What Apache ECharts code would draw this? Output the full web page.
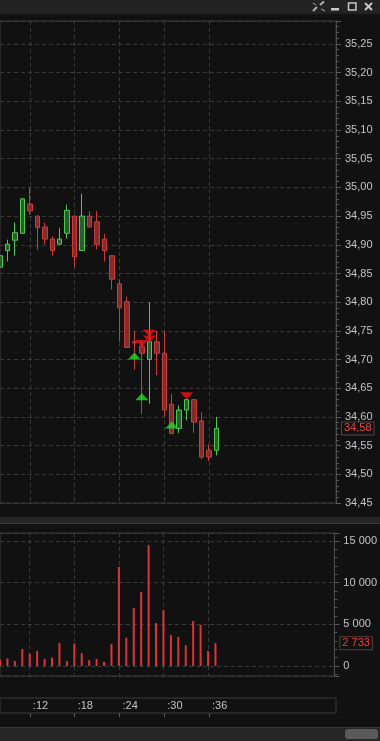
<!DOCTYPE html>
<html><head><meta charset="utf-8">
<script src="https://cdn.jsdelivr.net/npm/echarts@6/dist/echarts.min.js"></script>
<style>html,body{margin:0;padding:0;background:#111;}#c{width:380px;height:741px;}</style>
</head><body><div id="c"></div>
<script>
// ---- data ----
const times = [':08',':09',':10',':11',':12',':13',':14',':15',':16',':17',':18',':19',':20',':21',':22',':23',':24',':25',':26',':27',':28',':29',':30',':31',':32',':33',':34',':35',':36',':37'];
const open  = [34.861,34.890,34.908,34.920,34.971,34.950,34.931,34.910,34.901,34.920,34.950,34.890,34.950,34.940,34.910,34.881,34.832,34.801,34.731,34.723,34.700,34.731,34.711,34.622,34.580,34.612,34.630,34.593,34.542,34.542];
const close = [34.881,34.901,34.921,34.980,34.959,34.930,34.910,34.890,34.910,34.960,34.879,34.950,34.931,34.901,34.890,34.840,34.790,34.721,34.729,34.711,34.731,34.711,34.612,34.571,34.612,34.630,34.591,34.530,34.530,34.580];
const low   = [34.858,34.871,34.881,34.919,34.952,34.891,34.901,34.881,34.900,34.911,34.861,34.889,34.930,34.892,34.871,34.822,34.731,34.720,34.682,34.605,34.623,34.673,34.600,34.570,34.572,34.594,34.572,34.526,34.523,34.533];
const high  = [34.909,34.909,34.939,34.981,35.000,34.951,34.939,34.915,34.929,34.970,34.951,34.989,34.959,34.959,34.919,34.882,34.840,34.810,34.750,34.731,34.800,34.750,34.750,34.640,34.620,34.632,34.631,34.608,34.552,34.600];
const volume = [800,900,600,2050,1450,1800,850,1000,2750,600,2700,1550,700,850,500,2650,11900,3400,6950,8900,14500,5150,6700,3700,3500,2500,5400,4950,1800,2733];
const buyTimes = [':26',':27',':31'];
const buyPrices = [34.706,34.635,34.586];
const sellTimes = [':27',':28',':28',':33'];
const sellPrices = [34.728,34.746,34.736,34.637];
const axisFirstMinute = 8, axisLastMinute = 53, timeLabelStep = 6;
const priceMin = 34.45, priceMax = 35.29, priceStep = 0.05;
const volMin = -1200, volMax = 15960;

// ---- build ----
const cats = [];
for (let m = axisFirstMinute; m <= axisLastMinute; m++) cats.push(':' + String(m).padStart(2,'0'));
const lastMinute = parseInt(times[times.length-1].slice(1));
const showMinute = (i, v) => { const m = parseInt(String(v).slice(1)); return m % timeLabelStep === 0 && m <= lastMinute; };
const candleData = cats.map(() => '-');
const volData = cats.map(() => '-');
times.forEach((t, i) => {
  const idx = cats.indexOf(t);
  candleData[idx] = [open[i], close[i], low[i], high[i]];
  volData[idx] = volume[i];
});
const fmtPrice = v => Number(v).toFixed(2).replace('.', ',');
const fmtVol = v => String(Math.round(v)).replace(/\B(?=(\d{3})+(?!\d))/g, ' ');
const FONT = 'Liberation Sans';
const LBL = '#c4c4c4';
const GRIDC = '#3a3a3a';
const dashed = {color: GRIDC, type: [4, 3], width: 1};
const lastLabel = fmt => ({
  silent: true, symbol: ['none', 'none'], animation: false,
  lineStyle: {color: 'rgba(0,0,0,0)', width: 1, type: 'solid'},
  label: {show: true, position: 'end', distance: 6, formatter: p => fmt(p.value), color: '#e8403c', fontSize: 11, fontFamily: FONT,
          borderColor: '#5a4040', borderWidth: 1, padding: [1, 2, 0, 2], backgroundColor: '#111111'}
});

const chart = echarts.init(document.getElementById('c'), null, {renderer: 'canvas'});
const mlPrice = lastLabel(fmtPrice); mlPrice.data = [{yAxis: close[close.length-1]}];
const mlVol = lastLabel(fmtVol); mlVol.data = [{yAxis: volume[volume.length-1]}];
chart.setOption({
  backgroundColor: '#111111',
  animation: false,
  grid: [
    {left: 0, right: 44, top: 21, height: 482, show: true, borderColor: '#3c3c3c', borderWidth: 1, backgroundColor: 'transparent'},
    {left: 0, right: 44, top: 533, height: 143, show: true, borderColor: '#3c3c3c', borderWidth: 1, backgroundColor: 'transparent'},
    {left: 0, right: 44, top: 698, height: 15, show: true, borderColor: '#3c3c3c', borderWidth: 1, backgroundColor: 'transparent'}
  ],
  xAxis: [
    {gridIndex: 0, type: 'category', data: cats, boundaryGap: false,
     axisLine: {show: false}, axisTick: {show: false}, axisLabel: {show: false},
     splitLine: {show: true, interval: showMinute, lineStyle: dashed}},
    {gridIndex: 1, type: 'category', data: cats, boundaryGap: false,
     axisLine: {show: false}, axisTick: {show: false}, axisLabel: {show: false},
     splitLine: {show: true, interval: showMinute, lineStyle: dashed}},
    {gridIndex: 2, type: 'category', data: cats, boundaryGap: false, position: 'top',
     axisLine: {show: false},
     axisTick: {show: true, inside: true, length: 4, interval: showMinute, lineStyle: {color: '#5a5a5a'}},
     axisLabel: {show: true, inside: true, interval: showMinute, margin: 8, align: 'left', verticalAlign: 'middle',
                 padding: [0, 0, 0, 3], color: LBL, fontSize: 11, fontFamily: FONT},
     splitLine: {show: false}}
  ],
  yAxis: [
    {gridIndex: 0, type: 'value', position: 'right', min: priceMin, max: priceMax, interval: priceStep,
     axisLine: {show: true, lineStyle: {color: '#4a4a4a'}},
     axisTick: {show: true, length: 5, lineStyle: {color: '#5a5a5a'}},
     minorTick: {show: true, splitNumber: 5, length: 3, lineStyle: {color: '#5a5a5a'}},
     axisLabel: {color: LBL, fontSize: 11, fontFamily: FONT, margin: 9, showMaxLabel: false, formatter: fmtPrice},
     splitLine: {show: true, lineStyle: dashed}},
    {gridIndex: 1, type: 'value', position: 'right', min: volMin, max: volMax, splitNumber: 3,
     axisLine: {show: true, lineStyle: {color: '#4a4a4a'}},
     axisTick: {show: true, length: 5, lineStyle: {color: '#5a5a5a'}},
     minorTick: {show: true, splitNumber: 5, length: 3, lineStyle: {color: '#5a5a5a'}},
     axisLabel: {color: LBL, fontSize: 11, fontFamily: FONT, margin: 9, showMinLabel: false, showMaxLabel: false, formatter: fmtVol},
     splitLine: {show: true, lineStyle: dashed}},
    {gridIndex: 2, type: 'value', min: 0, max: 1, show: false}
  ],
  series: [
    {type: 'candlestick', xAxisIndex: 0, yAxisIndex: 0, data: candleData, barWidth: 5,
     itemStyle: {color: '#2a5c2c', borderColor: '#4fc94f', color0: '#822c2c', borderColor0: '#cc3b3b', borderWidth: 1},
     markLine: mlPrice},
    {type: 'scatter', xAxisIndex: 0, yAxisIndex: 0, z: 5, symbol: 'triangle', symbolSize: [13, 7],
     itemStyle: {color: '#1ee01e'}, data: buyTimes.map((t, i) => [t, buyPrices[i]])},
    {type: 'scatter', xAxisIndex: 0, yAxisIndex: 0, z: 5, symbol: 'triangle', symbolRotate: 180, symbolSize: [13, 7],
     itemStyle: {color: '#f01414'}, data: sellTimes.map((t, i) => [t, sellPrices[i]])},
    {type: 'bar', xAxisIndex: 1, yAxisIndex: 1, data: volData, barWidth: 2, itemStyle: {color: '#dc343c'},
     markLine: mlVol}
  ],
  graphic: [
    {type: 'rect', shape: {x: 0, y: 0, width: 380, height: 14}, style: {fill: '#232323'}, silent: true},
    {type: 'line', shape: {x1: 0, y1: 14, x2: 380, y2: 14}, style: {stroke: '#1a1a1a', lineWidth: 1}},
    {type: 'line', shape: {x1: 313, y1: 11, x2: 317, y2: 7}, style: {stroke: '#b0b0b0', lineWidth: 2}},
    {type: 'line', shape: {x1: 320, y1: 5, x2: 324, y2: 1.5}, style: {stroke: '#b0b0b0', lineWidth: 2}},
    {type: 'line', shape: {x1: 313, y1: 3, x2: 316, y2: 5}, style: {stroke: '#b0b0b0', lineWidth: 1}},
    {type: 'line', shape: {x1: 321, y1: 9, x2: 325, y2: 11}, style: {stroke: '#b0b0b0', lineWidth: 1}},
    {type: 'rect', shape: {x: 331, y: 8, width: 8, height: 2.5}, style: {fill: '#c8c8c8'}},
    {type: 'rect', shape: {x: 348.5, y: 3, width: 7.5, height: 7}, style: {fill: 'none', stroke: '#c8c8c8', lineWidth: 1.5}},
    {type: 'line', shape: {x1: 365, y1: 3, x2: 372, y2: 10}, style: {stroke: '#c8c8c8', lineWidth: 2}},
    {type: 'line', shape: {x1: 372, y1: 3, x2: 365, y2: 10}, style: {stroke: '#c8c8c8', lineWidth: 2}},
    {type: 'rect', shape: {x: 0, y: 517, width: 380, height: 6}, style: {fill: '#262626'}},
    {type: 'line', shape: {x1: 0, y1: 523.5, x2: 380, y2: 523.5}, style: {stroke: '#3c3c3c', lineWidth: 1}},
    {type: 'rect', shape: {x: 0, y: 727, width: 380, height: 14}, style: {fill: '#262626'}},
    {type: 'line', shape: {x1: 0, y1: 727.5, x2: 380, y2: 727.5}, style: {stroke: '#383838', lineWidth: 1}},
    {type: 'rect', shape: {x: 345, y: 729, width: 33, height: 10, r: 3}, style: {fill: '#5a5a5a'}}
  ]
});
</script></body></html>
